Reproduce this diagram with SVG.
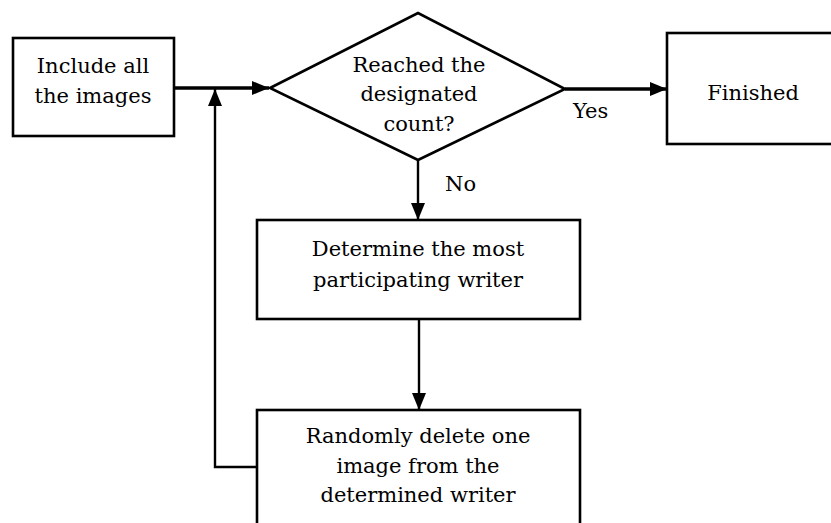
<svg xmlns="http://www.w3.org/2000/svg" width="831" height="523" viewBox="0 0 831 523">
<style>
.box{fill:#fff;stroke:#000;stroke-width:2.6}
.t{font-family:"DejaVu Serif","Liberation Serif",serif;font-size:21px;fill:#000;text-anchor:middle}
.l{font-family:"DejaVu Serif","Liberation Serif",serif;font-size:21px;fill:#000}
.c{fill:none;stroke:#000;stroke-width:2.4}
</style>
<defs>
<marker id="ah" viewBox="0 0 17 14" refX="17" refY="7" markerWidth="17" markerHeight="14" markerUnits="userSpaceOnUse" orient="auto">
<path d="M0,0 L17,7 L0,14 Z" fill="#000"/>
</marker>
</defs>
<g id="connectors">
<path class="c" d="M174,88 L269,88" style="stroke-width:3.4" marker-end="url(#ah)"/>
<path class="c" d="M565,89 L667,89" style="stroke-width:3.4" marker-end="url(#ah)"/>
<path class="c" d="M418,160 L418,220" marker-end="url(#ah)"/>
<path class="c" d="M419,319 L419,410" marker-end="url(#ah)"/>
<path class="c" d="M257,467 L215,467 L215,89" marker-end="url(#ah)"/>
</g>
<g id="include">
<rect class="box" x="13" y="38" width="161" height="98"/>
<text class="t" x="93" y="73">Include all</text>
<text class="t" x="93" y="103">the images</text>
</g>
<g id="decision">
<polygon class="box" points="270,88 418,13 565,89 418,160"/>
<text class="t" x="419" y="72">Reached the</text>
<text class="t" x="419" y="101">designated</text>
<text class="t" x="419" y="131">count?</text>
</g>
<g id="finished">
<rect class="box" x="667" y="33" width="180" height="111"/>
<text class="t" x="753" y="100">Finished</text>
</g>
<g id="determine">
<rect class="box" x="257" y="220" width="323" height="99"/>
<text class="t" x="418" y="256">Determine the most</text>
<text class="t" x="418" y="287">participating writer</text>
</g>
<g id="delete">
<rect class="box" x="257" y="410" width="323" height="130"/>
<text class="t" x="418" y="443">Randomly delete one</text>
<text class="t" x="418" y="473">image from the</text>
<text class="t" x="418" y="502">determined writer</text>
</g>
<g id="labels">
<text class="l" x="573" y="118">Yes</text>
<text class="l" x="445" y="191">No</text>
</g>
</svg>
